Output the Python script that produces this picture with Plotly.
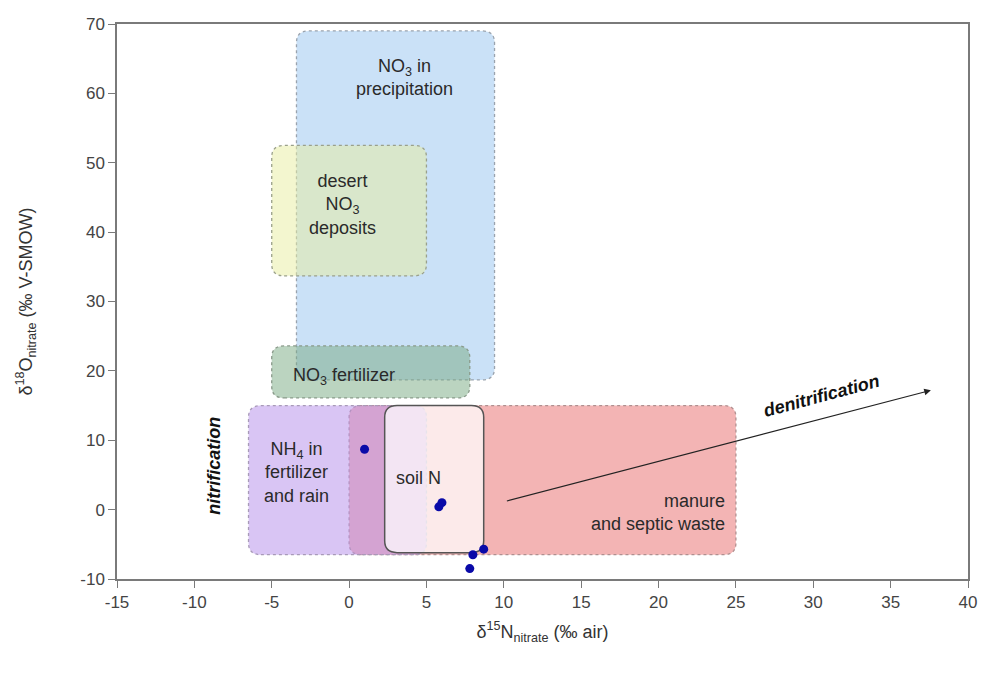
import plotly.graph_objects as go

# ---- data ----
source_names = ["NO3 in precipitation", "desert NO3 deposits", "NO3 fertilizer",
                "manure and septic waste", "NH4 in fertilizer and rain", "soil N"]
src_x_min = [-3.4, -5.0, -5.0, 0.0, -6.5, 2.3]
src_x_max = [9.4, 5.0, 7.8, 25.0, 5.0, 8.7]
src_y_min = [18.7, 33.7, 16.1, -6.5, -6.5, -6.2]
src_y_max = [69.0, 52.5, 23.6, 15.0, 15.0, 15.0]

sample_d15N = [1.0, 6.0, 5.8, 8.0, 8.7, 7.8]
sample_d18O = [8.7, 1.0, 0.4, -6.5, -5.7, -8.5]

denit_start = (10.1, 1.2)
denit_end = (37.6, 17.2)

x_ticks = [-15, -10, -5, 0, 5, 10, 15, 20, 25, 30, 35, 40]
y_ticks = [-10, 0, 10, 20, 30, 40, 50, 60, 70]

# ---- styles ----
fills = ["rgba(150,195,240,0.5)", "rgba(232,238,160,0.5)", "rgba(120,170,130,0.5)",
         "rgba(235,130,130,0.6)", "rgba(185,150,235,0.55)", "rgba(255,255,255,0.72)"]
borders = ["#9aa3ad", "#9aa08a", "#8a9a8a", "#b09090", "#a89ab8", "#555555"]
dashes = ["dot", "dot", "dot", "dot", "dot", "solid"]
FONT = "Liberation Sans, Arial, sans-serif"


def rrect(x0, x1, y0, y1, rx=0.8, ry=1.7):
    return (f"M {x0+rx},{y0} L {x1-rx},{y0} Q {x1},{y0} {x1},{y0+ry} "
            f"L {x1},{y1-ry} Q {x1},{y1} {x1-rx},{y1} L {x0+rx},{y1} "
            f"Q {x0},{y1} {x0},{y1-ry} L {x0},{y0+ry} Q {x0},{y0} {x0+rx},{y0} Z")


fig = go.Figure()

shapes = []
for i in range(len(source_names)):
    shapes.append(dict(type="path", xref="x", yref="y",
                       path=rrect(src_x_min[i], src_x_max[i], src_y_min[i], src_y_max[i]),
                       fillcolor=fills[i],
                       line=dict(color=borders[i], width=1.5 if i == 5 else 1.3, dash=dashes[i]),
                       layer="below"))

fig.add_trace(go.Scatter(x=sample_d15N, y=sample_d18O, mode="markers",
                         marker=dict(color="#0a0aa8", size=9), showlegend=False,
                         hoverinfo="x+y"))

tf = dict(family=FONT, size=18, color="#2a2a2a")
bf = dict(family=FONT, size=18, color="#111")
annotations = [
    dict(x=3.6, y=62.3, text="NO<sub>3</sub> in<br>precipitation", showarrow=False, font=tf),
    dict(x=-0.4, y=44.0, text="desert<br>NO<sub>3</sub><br>deposits", showarrow=False, font=tf),
    dict(x=-0.3, y=19.2, text="NO<sub>3</sub> fertilizer", showarrow=False, font=tf),
    dict(x=-3.4, y=5.4, text="NH<sub>4</sub> in<br>fertilizer<br>and rain", showarrow=False, font=tf),
    dict(x=4.5, y=4.5, text="soil N", showarrow=False, font=tf),
    dict(x=24.4, y=-0.4, text="manure<br>and septic waste", showarrow=False, font=tf,
         xanchor="right", align="right"),
    dict(x=-8.7, y=6.4, text="<b><i>nitrification</i></b>", showarrow=False, textangle=-90, font=bf),
    dict(x=30.5, y=16.4, text="<b><i>denitrification</i></b>", showarrow=False, textangle=-15, font=bf),
    dict(x=denit_end[0], y=denit_end[1], ax=denit_start[0], ay=denit_start[1],
         xref="x", yref="y", axref="x", ayref="y", text="", showarrow=True,
         arrowhead=2, arrowsize=1.2, arrowwidth=1.1, arrowcolor="#222"),
]

axis_common = dict(showline=True, linecolor="#7a7a7a", linewidth=1.5, mirror=True,
                   ticks="outside", ticklen=7, tickcolor="#7a7a7a", tickwidth=1.2,
                   showgrid=False, zeroline=False, automargin=False,
                   tickfont=dict(family=FONT, size=17, color="#444"))

# page body adds an 8px offset; margins compensate so the plot area matches the reference
fig.update_layout(
    width=979, height=672,
    margin=dict(l=109, r=19, t=16, b=101),
    paper_bgcolor="white", plot_bgcolor="white",
    shapes=shapes, annotations=annotations,
    xaxis=dict(range=[-15, 40], tickvals=x_ticks, ticktext=[str(v) for v in x_ticks],
               **axis_common,
               title=dict(text="δ<sup>15</sup>N<sub>nitrate</sub> (‰ air)", standoff=14,
                          font=dict(family=FONT, size=18, color="#333"))),
    yaxis=dict(range=[-10, 70], tickvals=y_ticks, ticktext=[str(v) for v in y_ticks],
               **axis_common,
               title=dict(text="δ<sup>18</sup>O<sub>nitrate</sub> (‰ V-SMOW)", standoff=43,
                          font=dict(family=FONT, size=18, color="#333"))),
)

fig.write_html("out.html")
